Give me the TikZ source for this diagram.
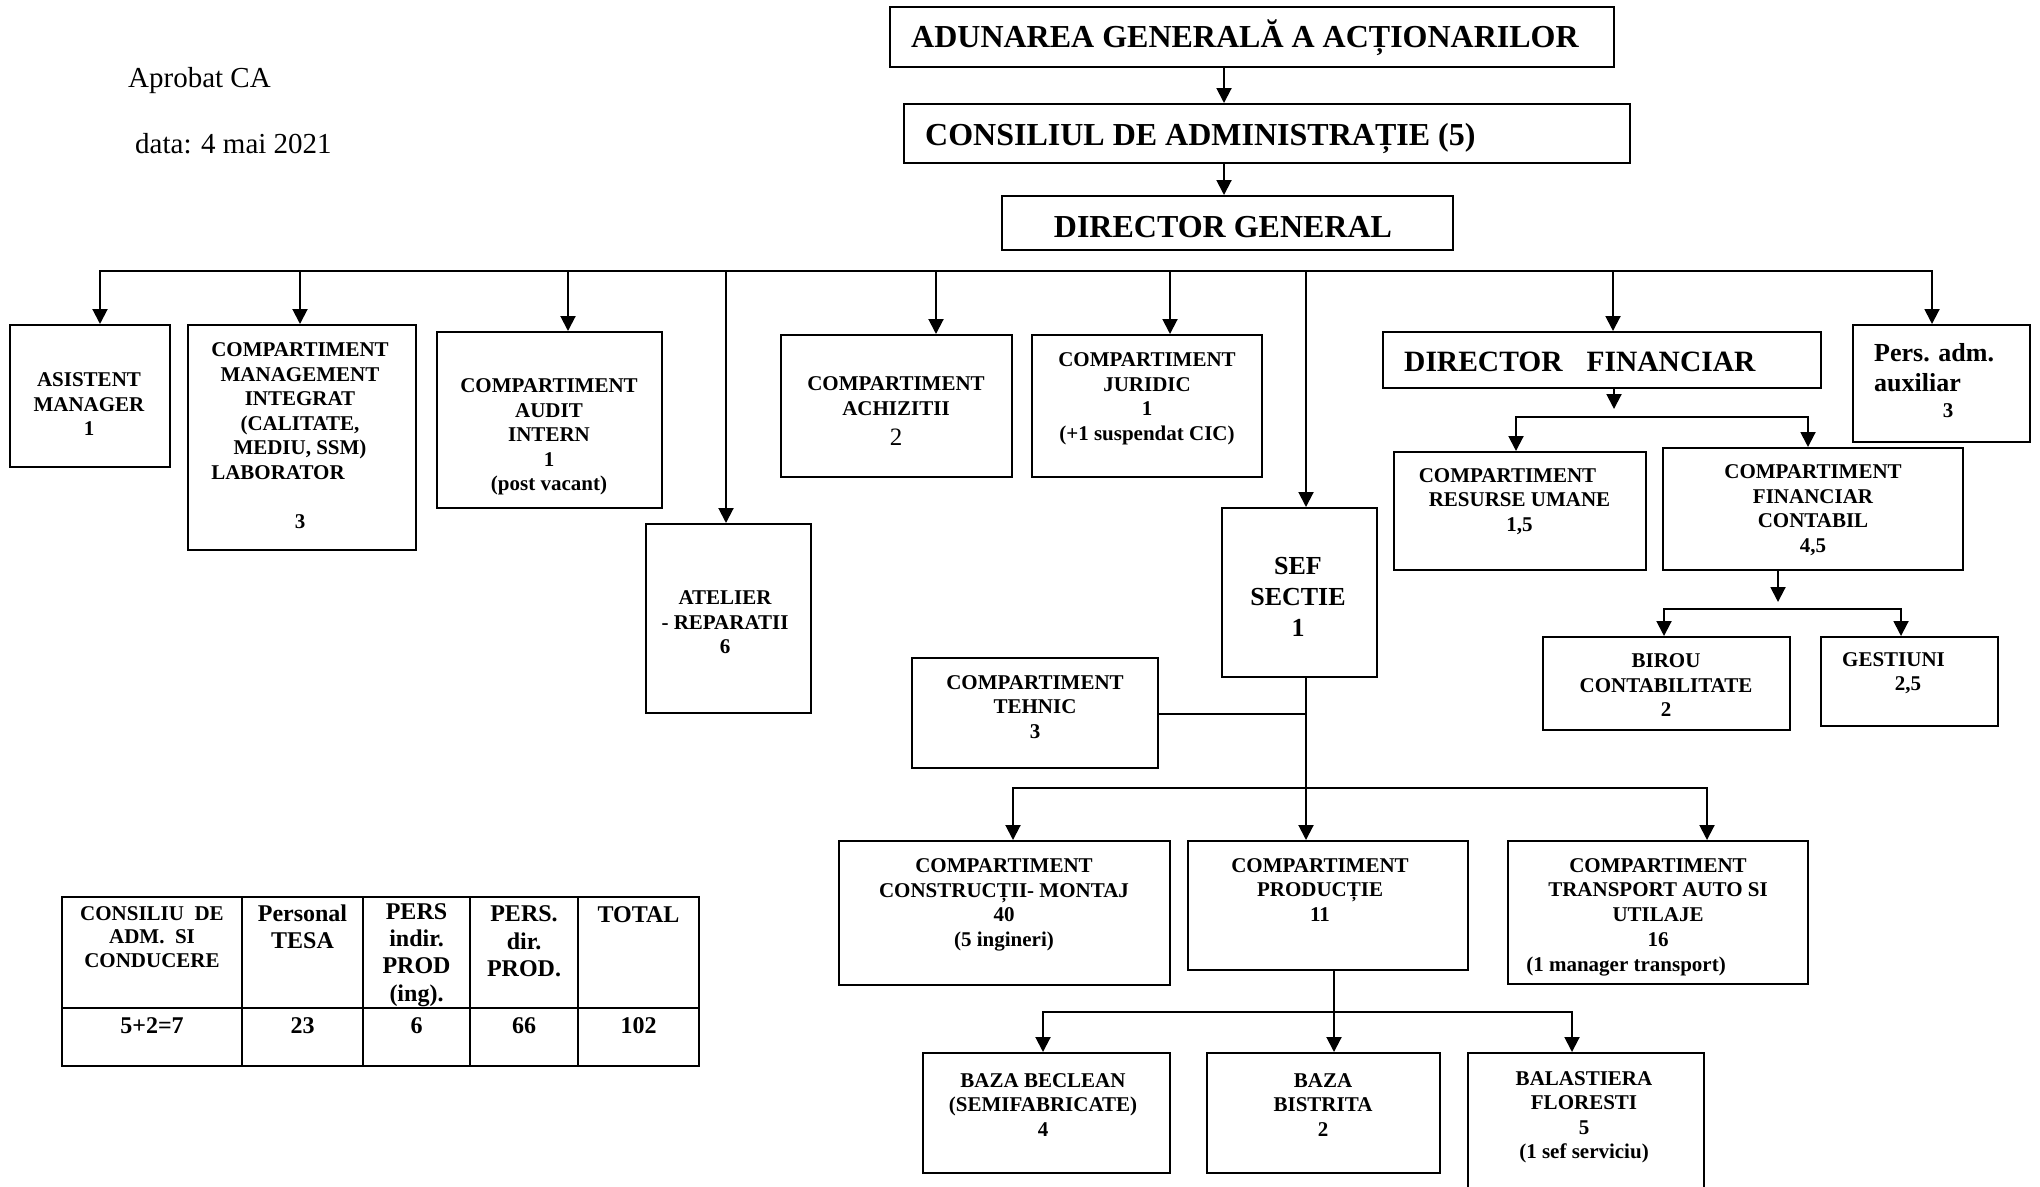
\documentclass[tikz,border=0pt]{standalone}
\usepackage{fontspec}
\setmainfont{Liberation Serif}
\usetikzlibrary{arrows.meta,fit}
\begin{document}
\begin{tikzpicture}[x=1pt,y=-1pt,
  box/.style={draw, line width=2pt, inner sep=0pt},
  txt/.style={font=\bfseries\fontsize{21}{24.5}\selectfont, align=center, inner sep=0pt},
  bigtxt/.style={font=\bfseries\fontsize{32}{36}\selectfont, inner sep=0pt},
  midtxt/.style={font=\bfseries\fontsize{26}{31}\selectfont, align=center, inner sep=0pt},
  plain/.style={font=\fontsize{29}{34}\selectfont, inner sep=0pt},
  tabA/.style={font=\bfseries\fontsize{21}{23.5}\selectfont, align=center, inner sep=0pt},
  tabB/.style={font=\bfseries\fontsize{24}{27.3}\selectfont, align=center, inner sep=0pt},
  ln/.style={line width=2pt},
  arr/.style={line width=2pt, -{Triangle[width=15pt,length=15pt]}}]
\useasboundingbox (0,0) rectangle (2040,1186);
\fill[white] (0,0) rectangle (2040,1186);

% header texts
\node[plain, anchor=base west] (apr) at (128,87) {Aprobat CA};
\node[plain, anchor=base west] (data) at (135,153) {data: 4 mai 2021};

% top chain
\node[box, fit={(890,7)(1614,67)}] (adun) {};
\node[bigtxt, anchor=base west] (adunT) at (911,47) {ADUNAREA GENERALĂ A ACȚIONARILOR};
\node[box, fit={(904,104)(1630,163)}] (cons) {};
\node[bigtxt, anchor=base west] (consT) at (925,145) {CONSILIUL DE ADMINISTRAȚIE (5)};
\node[box, fit={(1002,196)(1453,250)}] (dg) {};
\node[bigtxt, anchor=base] (dgT) at (1223,237) {DIRECTOR GENERAL};
\coordinate (j0) at (1224,0);
\draw[arr] (adun.south -| j0) -- (cons.north -| j0);
\draw[arr] (cons.south -| j0) -- (dg.north -| j0);

% second row boxes
\node[box, fit={(10,325)(170,467)}] (asist) {};
\node[txt] (asistT) at (89,404.5) {ASISTENT\\MANAGER\\1};
\node[box, fit={(188,325)(416,550)}] (mgmt) {};
\node[txt] (mgmtT) at (300,435.5) {COMPARTIMENT\\MANAGEMENT\\INTEGRAT\\(CALITATE,\\MEDIU, SSM)\\\rlap{LABORATOR}\phantom{COMPARTIMENT}\\[24.5pt]3};
\node[box, fit={(437,332)(662,508)}] (audit) {};
\node[txt] (auditT) at (549,437) {COMPARTIMENT\\AUDIT\\INTERN\\1\\(post vacant)};
\node[box, fit={(646,524)(811,713)}] (atel) {};
\node[txt] (atelT) at (725,622.5) {ATELIER\\- REPARATII\\6};
\node[box, fit={(781,335)(1012,477)}] (achiz) {};
\node[txt] (achizT) at (896,396) {COMPARTIMENT\\ACHIZITII};
\node[font=\fontsize{25}{29}\selectfont, inner sep=0pt, anchor=base] (achizN) at (896,445) {2};
\node[box, fit={(1032,335)(1262,477)}] (jurid) {};
\node[txt] (juridT) at (1147,399) {COMPARTIMENT\\JURIDIC\\1\\(+1 suspendat CIC)};
\node[box, fit={(1222,508)(1377,677)}] (sef) {};
\node[midtxt] (sefT) at (1298,597) {SEF\\SECTIE\\1};
\node[box, fit={(1383,332)(1821,388)}] (dirfin) {};
\node[font=\bfseries\fontsize{29.5}{34}\selectfont, inner sep=0pt, anchor=base west] (dirfinT) at (1404,371) {DIRECTOR\hspace{24pt}FINANCIAR};
\node[box, fit={(1853,325)(2030,442)}] (pers) {};
\node[midtxt, anchor=base west] (persA) at (1874,361) {Pers. adm.};
\node[midtxt, anchor=base west] (persB) at (1874,391) {auxiliar};
\node[txt, anchor=base] (persC) at (1948,417) {3};

% bus
\coordinate (b1) at (100,271);
\coordinate (b2) at (300,271);
\coordinate (b3) at (568,271);
\coordinate (b4) at (726,271);
\coordinate (b5) at (936,271);
\coordinate (b6) at (1170,271);
\coordinate (b7) at (1306,271);
\coordinate (b8) at (1613,271);
\coordinate (b9) at (1932,271);
\draw[ln, line cap=rect] (b1) -- (b9);
\draw[arr] (b1) -- (b1 |- asist.north);
\draw[arr] (b2) -- (b2 |- mgmt.north);
\draw[arr] (b3) -- (b3 |- audit.north);
\draw[arr] (b4) -- (b4 |- atel.north);
\draw[arr] (b5) -- (b5 |- achiz.north);
\draw[arr] (b6) -- (b6 |- jurid.north);
\draw[arr] (b7) -- (b7 |- sef.north);
\draw[arr] (b8) -- (b8 |- dirfin.north);
\draw[arr] (b9) -- (b9 |- pers.north);

% financial branch
\node[box, fit={(1394,452)(1646,570)}] (ru) {};
\node[txt] (ruT) at (1519.5,501.5) {\hspace*{-24pt}COMPARTIMENT\\RESURSE UMANE\\1,5};
\node[box, fit={(1663,448)(1963,570)}] (cfc) {};
\node[txt] (cfcT) at (1813,510) {COMPARTIMENT\\FINANCIAR\\CONTABIL\\4,5};
\coordinate (f0) at (1614,409);
\coordinate (fL) at (1516,417);
\coordinate (fR) at (1808,417);
\draw[arr] (dirfin.south -| f0) -- (f0);
\draw[ln, line cap=rect] (fL) -- (fR);
\draw[arr] (fL) -- (fL |- ru.north);
\draw[arr] (fR) -- (fR |- cfc.north);

\node[box, fit={(1543,637)(1790,730)}] (birou) {};
\node[txt] (birouT) at (1666,685.5) {BIROU\\CONTABILITATE\\2};
\node[box, fit={(1821,637)(1998,726)}] (gest) {};
\node[txt] (gestT) at (1901,673) {GESTIUNI\hspace*{15pt}\\\hspace*{14pt}2,5};
\coordinate (g0) at (1778,602);
\coordinate (gL) at (1664,609);
\coordinate (gR) at (1901,609);
\draw[arr] (cfc.south -| g0) -- (g0);
\draw[ln, line cap=rect] (gL) -- (gR);
\draw[arr] (gL) -- (gL |- birou.north);
\draw[arr] (gR) -- (gR |- gest.north);

% production branch
\node[box, fit={(912,658)(1158,768)}] (tehnic) {};
\node[txt] (tehnicT) at (1035,707) {COMPARTIMENT\\TEHNIC\\3};
\node[box, fit={(839,841)(1170,985)}] (constr) {};
\node[txt] (constrT) at (1004,905) {COMPARTIMENT\\CONSTRUCȚII- MONTAJ\\40\\(5 ingineri)};
\node[box, fit={(1188,841)(1468,970)}] (prod) {};
\node[txt] (prodT) at (1320,890) {COMPARTIMENT\\PRODUCȚIE\\11};
\node[box, fit={(1508,841)(1808,984)}] (transp) {};
\node[txt, font=\bfseries\fontsize{21}{24.75}\selectfont] (transpT) at (1658,917) {COMPARTIMENT\\TRANSPORT AUTO SI\\UTILAJE\\16\hspace*{32pt}\\(1 manager transport)\hspace*{64pt}};
\coordinate (s1) at (1306,714);
\coordinate (sL) at (1013,788);
\coordinate (sR) at (1707,788);
\draw[arr] (sef.south -| s1) -- (s1 |- prod.north);
\draw[ln] (tehnic.east |- s1) -- (s1);
\draw[ln, line cap=rect] (sL) -- (sR);
\draw[arr] (sL) -- (sL |- constr.north);
\draw[arr] (sR) -- (sR |- transp.north);

\node[box, fit={(923,1053)(1170,1173)}] (becl) {};
\node[txt] (beclT) at (1043,1105) {BAZA BECLEAN\\(SEMIFABRICATE)\\4};
\node[box, fit={(1207,1053)(1440,1173)}] (bist) {};
\node[txt] (bistT) at (1323,1105) {BAZA\\BISTRITA\\2};
\node[box, fit={(1468,1053)(1704,1194)}] (bala) {};
\node[txt] (balaT) at (1584,1117.5) {BALASTIERA\\FLORESTI\\5\\(1 sef serviciu)};
\coordinate (pL) at (1043,1012);
\coordinate (pM) at (1334,1012);
\coordinate (pR) at (1572,1012);
\draw[arr] (prod.south -| pM) -- (pM |- bist.north);
\draw[ln, line cap=rect] (pL) -- (pR);
\draw[arr] (pL) -- (pL |- becl.north);
\draw[arr] (pR) -- (pR |- bala.north);

% table
\draw[line width=2.5pt] (62,897) rectangle (699,1066);
\draw[line width=2.5pt] (62,1008) -- (699,1008)
  (242,897) -- (242,1066) (363,897) -- (363,1066)
  (470,897) -- (470,1066) (578,897) -- (578,1066);
\node[tabA] (t11) at (152,937) {CONSILIU\ \ DE\\ADM.\ \ SI\\CONDUCERE};
\node[tabB] (t12) at (302.5,927) {Personal\\TESA};
\node[tabB] (t13) at (416.5,955) {PERS\\indir.\\PROD\\(ing).};
\node[tabB] (t14) at (524,941.5) {PERS.\\dir.\\PROD.};
\node[tabB, anchor=base] (t15) at (638.5,922) {TOTAL};
\node[tabB, anchor=base] (t21) at (152,1033) {5+2=7};
\node[tabB, anchor=base] (t22) at (302.5,1033) {23};
\node[tabB, anchor=base] (t23) at (416.5,1033) {6};
\node[tabB, anchor=base] (t24) at (524,1033) {66};
\node[tabB, anchor=base] (t25) at (638.5,1033) {102};
\end{tikzpicture}
\end{document}
